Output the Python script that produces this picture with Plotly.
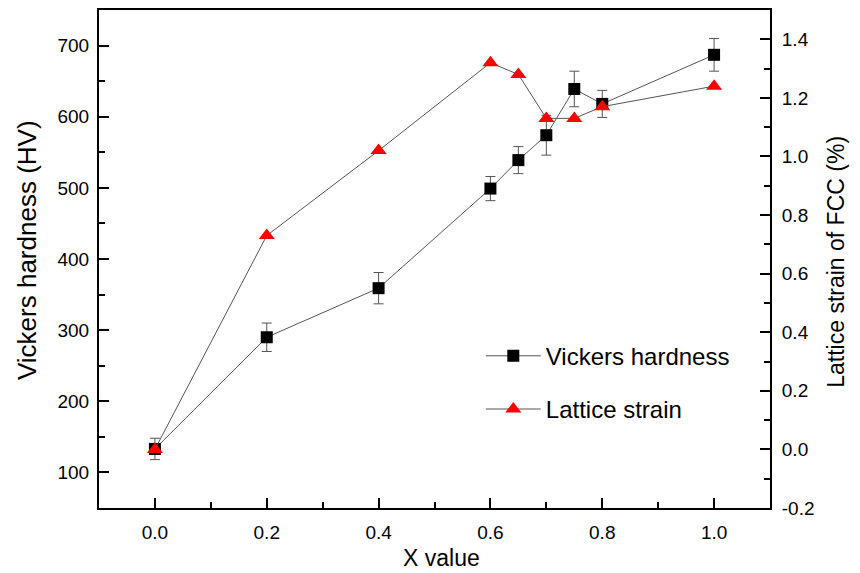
import plotly.graph_objects as go

x_hard = [0.0, 0.2, 0.4, 0.6, 0.65, 0.7, 0.75, 0.8, 1.0]
hardness = [133, 290, 359, 499, 539, 574, 639, 618, 687]
hard_err = [15, 20, 22, 17, 19, 28, 25, 19, 23]

x_strain = [0.0, 0.2, 0.4, 0.6, 0.65, 0.7, 0.75, 0.8, 1.0]
strain = [0.0, 0.73, 1.02, 1.32, 1.28, 1.13, 1.13, 1.17, 1.24]

FONT = "Liberation Sans, Arial, sans-serif"

fig = go.Figure()
fig.add_trace(go.Scatter(
    x=x_hard, y=hardness, mode="lines+markers", name="Vickers hardness",
    line=dict(color="#555555", width=1),
    marker=dict(symbol="square", size=12, color="black"),
    error_y=dict(type="data", array=hard_err, visible=True, color="#555555", thickness=1, width=5),
    legendgroup="a",
))
fig.add_trace(go.Scatter(
    x=x_strain, y=strain, mode="lines+markers", name="Lattice strain", yaxis="y2",
    line=dict(color="#555555", width=1),
    marker=dict(symbol="triangle-up", size=14, color="#ff0000"),
    legendgroup="b",
))

axis_common = dict(
    showline=True, linecolor="black", linewidth=2,
    ticks="inside", ticklen=10, tickwidth=2, tickcolor="black",
    showgrid=False, zeroline=False, automargin=False,
    tickfont=dict(family=FONT, size=19, color="black"),
)

fig.update_layout(
    width=860, height=573,
    margin=dict(l=99, r=90, t=10, b=65),
    plot_bgcolor="white", paper_bgcolor="white",
    font=dict(family=FONT, color="black"),
    xaxis=dict(
        **axis_common, range=[-0.1, 1.1], tickvals=[0, 0.2, 0.4, 0.6, 0.8, 1.0],
        ticktext=["0.0", "0.2", "0.4", "0.6", "0.8", "1.0"], mirror=True,
        ticklabelstandoff=6,
        minor=dict(ticks="inside", ticklen=6, tickwidth=2, tickcolor="black", dtick=0.1, tick0=0),
    ),
    yaxis=dict(
        **axis_common, range=[50, 750], tickvals=[100, 200, 300, 400, 500, 600, 700],
        ticklabelstandoff=4,
        minor=dict(ticks="inside", ticklen=6, tickwidth=2, tickcolor="black", dtick=50, tick0=50),
    ),
    yaxis2=dict(
        **axis_common, range=[-0.2, 1.5], overlaying="y", side="right",
        tickvals=[-0.2, 0, 0.2, 0.4, 0.6, 0.8, 1.0, 1.2, 1.4],
        ticktext=["-0.2", "0.0", "0.2", "0.4", "0.6", "0.8", "1.0", "1.2", "1.4"],
        ticklabelstandoff=6,
        minor=dict(ticks="inside", ticklen=6, tickwidth=2, tickcolor="black", dtick=0.1, tick0=-0.1),
    ),
    annotations=[
        dict(text="Vickers hardness (HV)", xref="paper", yref="paper", x=-0.1073, y=0.518,
             textangle=-90, showarrow=False, xanchor="center", yanchor="middle",
             font=dict(family=FONT, size=26, color="black")),
        dict(text="Lattice strain of FCC (%)", xref="paper", yref="paper", x=1.098, y=0.494,
             textangle=-90, showarrow=False, xanchor="center", yanchor="middle",
             font=dict(family=FONT, size=23, color="black")),
        dict(text="X value", xref="paper", yref="paper", x=0.5097, y=-0.1004,
             showarrow=False, xanchor="center", yanchor="middle",
             font=dict(family=FONT, size=23, color="black")),
    ],
    showlegend=True,
    legend=dict(
        x=0.569, y=0.35, xanchor="left", yanchor="top",
        font=dict(family=FONT, size=24, color="black"),
        bgcolor="rgba(0,0,0,0)", traceorder="grouped", tracegroupgap=19,
        itemwidth=55,
    ),
)

fig.write_html("out.html", config={"displayModeBar": False},
               post_script="document.body.style.margin='0';document.body.style.overflow='hidden';")
